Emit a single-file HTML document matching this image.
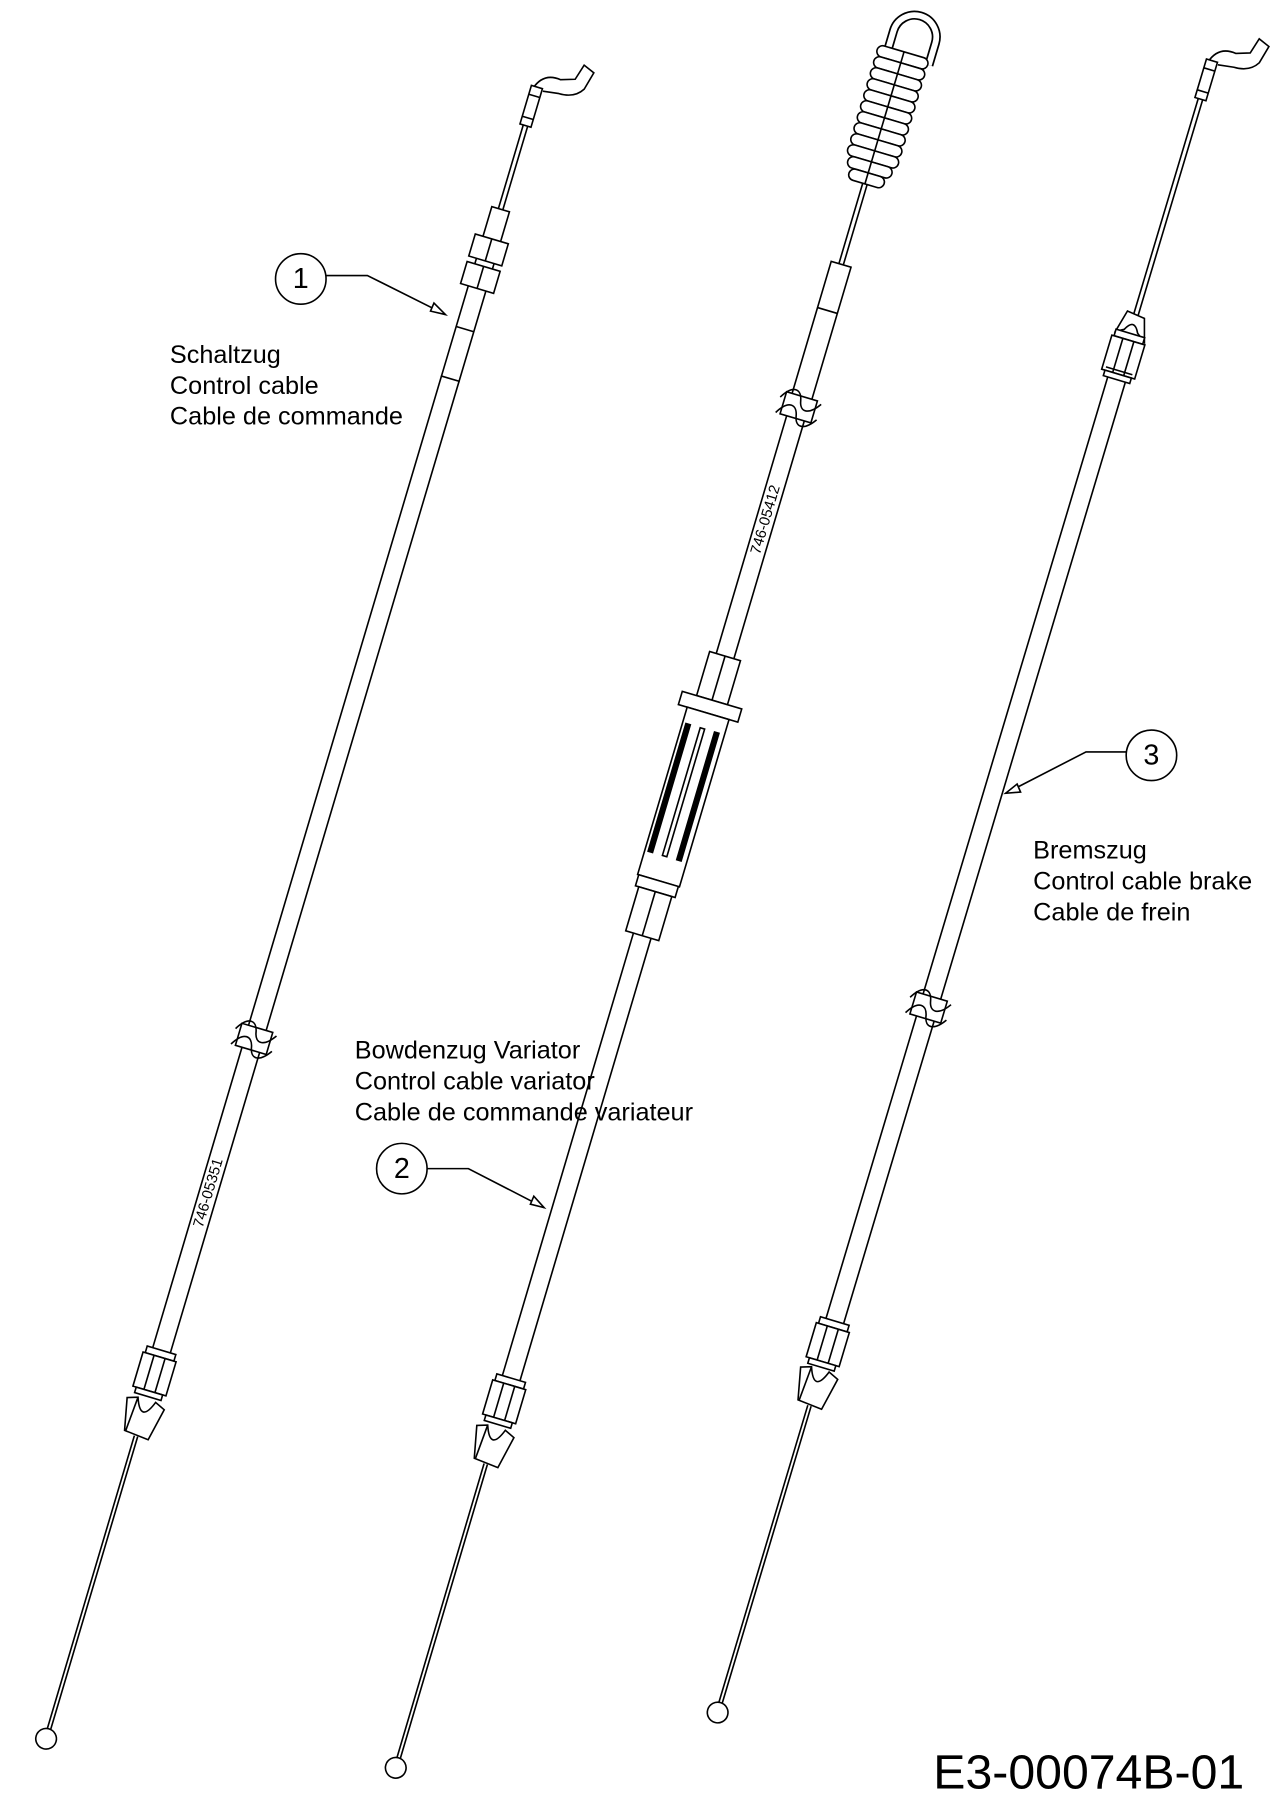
<!DOCTYPE html>
<html><head><meta charset="utf-8"><style>html,body{margin:0;padding:0;background:#fff}svg{display:block}</style></head>
<body>
<svg width="1272" height="1800" viewBox="0 0 1108 1568" xmlns="http://www.w3.org/2000/svg" font-family="Liberation Sans, sans-serif">
<defs>
<g id="fer" fill="#fff" stroke="#000" stroke-width="1.4">
<rect x="-13" y="0" width="26" height="6"/>
<rect x="-15" y="6" width="30" height="31"/>
<line x1="-5" y1="6" x2="-5" y2="37"/><line x1="5" y1="6" x2="5" y2="37"/>
<rect x="-12" y="37" width="24" height="5"/>
</g>
<g id="clip" fill="#fff" stroke="#000" stroke-width="1.4">
<path d="M-17,3 L-8,0 Q0,22 8,0 L17,4 L11,33 L-11,31 Z"/>
<path d="M-8,0 L-10,31"/>
</g>
<g id="brk">
<rect x="-14" y="-10" width="28" height="20" fill="#fff"/>
<path d="M-18,-4 C-10,-18 -2,-16 0,-6 C2,4 10,4 18,-8" fill="none" stroke="#000" stroke-width="1.4"/>
<path d="M-18,10 C-10,-4 -2,-2 0,8 C2,18 10,18 18,6" fill="none" stroke="#000" stroke-width="1.4"/>
</g>
<g id="hk" fill="#fff" stroke="#000" stroke-width="1.4">
<path d="M-3,-18 Q2,-34 18,-32 L30,-36 L34,-50 L44,-46 L40,-30 Q34,-20 20,-20 L6,-18"/>
<rect x="-5" y="-20" width="10" height="35"/>
<line x1="-5" y1="-12" x2="5" y2="-12"/><line x1="-5" y1="8" x2="5" y2="8"/>
</g>
</defs>
<g stroke="#000" stroke-width="1.4" fill="#fff">
<!-- Cable 1 -->
<g transform="translate(462,95) rotate(16.55)">
<line x1="-2" y1="15" x2="-2" y2="91"/><line x1="2" y1="15" x2="2" y2="91"/>
<use href="#hk"/>
<rect x="-8" y="91" width="16" height="154"/>
<line x1="-8" y1="200" x2="8" y2="200"/>
<rect x="-15" y="118" width="30" height="20"/><line x1="0" y1="118" x2="0" y2="138"/>
<rect x="-15" y="143" width="30" height="20"/><line x1="0" y1="143" x2="0" y2="163"/>
<line x1="-8" y1="245" x2="-8" y2="1128"/><line x1="8" y1="245" x2="8" y2="1128"/>
<use href="#brk" y="845"/>
<text x="0" y="0" transform="translate(4,985) rotate(-90)" font-size="13" fill="#000" stroke="none" text-anchor="middle">746-05351</text>
<use href="#fer" y="1128"/>
<use href="#clip" y="1173"/>
<line x1="-1.5" y1="1206" x2="-1.5" y2="1472"/><line x1="1.5" y1="1206" x2="1.5" y2="1472"/>
<circle cx="0" cy="1481" r="9"/>
</g>
<!-- Cable 2 -->
<g transform="translate(752,165) rotate(16.5)">
<path d="M-14,-125 L-14,-140 A19,19 0 0 1 24,-140 L24,-120" fill="none" stroke-width="8"/>
<path d="M-14,-125 L-14,-140 A19,19 0 0 1 24,-140 L24,-120" fill="none" stroke="#fff" stroke-width="5"/>
<rect x="-23" y="-125" width="46" height="10" rx="5"/>
<rect x="-23" y="-115" width="46" height="10" rx="5"/>
<rect x="-23" y="-105" width="46" height="10" rx="5"/>
<rect x="-23" y="-95" width="46" height="10" rx="5"/>
<rect x="-23" y="-85" width="46" height="10" rx="5"/>
<rect x="-23" y="-75" width="46" height="10" rx="5"/>
<rect x="-23" y="-65" width="46" height="10" rx="5"/>
<rect x="-23" y="-55" width="46" height="10" rx="5"/>
<rect x="-23" y="-45" width="46" height="10" rx="5"/>
<rect x="-23" y="-35" width="46" height="10" rx="5"/>
<rect x="-20" y="-25" width="40" height="10" rx="5"/>
<rect x="-16" y="-15" width="32" height="10" rx="5"/>
<line x1="0" y1="-125" x2="0" y2="-5"/>
<line x1="-2" y1="-5" x2="-2" y2="68"/><line x1="2" y1="-5" x2="2" y2="68"/>
<rect x="-9" y="68" width="18" height="132"/>
<line x1="-9" y1="110" x2="9" y2="110"/>
<line x1="-8" y1="200" x2="-8" y2="424"/><line x1="8" y1="200" x2="8" y2="424"/>
<use href="#brk" y="198"/>
<text x="0" y="0" transform="translate(4,300) rotate(-90)" font-size="13" fill="#000" stroke="none" text-anchor="middle">746-05412</text>
<rect x="-14" y="424" width="28" height="40"/><line x1="0" y1="424" x2="0" y2="464"/>
<rect x="-27" y="464" width="54" height="12"/>
<rect x="-19" y="476" width="38" height="152"/>
<rect x="-16" y="490" width="4" height="116" fill="#000"/>
<rect x="-3" y="490" width="4" height="116"/>
<rect x="10" y="490" width="4" height="116" fill="#000"/>
<rect x="-18" y="628" width="36" height="10"/>
<rect x="-15" y="638" width="30" height="40"/><line x1="0" y1="638" x2="0" y2="678"/>
<line x1="-8" y1="678" x2="-8" y2="1080"/><line x1="8" y1="678" x2="8" y2="1080"/>
<use href="#fer" y="1080"/>
<use href="#clip" y="1125"/>
<line x1="-1.5" y1="1158" x2="-1.5" y2="1425"/><line x1="1.5" y1="1158" x2="1.5" y2="1425"/>
<circle cx="0" cy="1434" r="9"/>
</g>
<!-- Cable 3 -->
<g transform="translate(1050,72) rotate(16.66)">
<line x1="-2" y1="15" x2="-2" y2="212"/><line x1="2" y1="15" x2="2" y2="212"/>
<use href="#hk"/>
<path d="M-13,230 L-8,210 L8,212 L14,232 L6,226 Q0,214 -6,226 Z"/>
<use href="#fer" y="228"/>
<line x1="-12" y1="262" x2="12" y2="262"/>
<line x1="-8" y1="270" x2="-8" y2="1126"/><line x1="8" y1="270" x2="8" y2="1126"/>
<use href="#brk" y="841"/>
<use href="#fer" y="1126"/>
<use href="#clip" y="1170"/>
<line x1="-1.5" y1="1203" x2="-1.5" y2="1473"/><line x1="1.5" y1="1203" x2="1.5" y2="1473"/>
<circle cx="0" cy="1482" r="9"/>
</g>
<!-- callouts -->
<circle cx="262" cy="243" r="22"/>
<polyline points="284,240 320,240 388,274" fill="none"/>
<path d="M388,274 L375,271 L378,264 Z"/>
<circle cx="350" cy="1018" r="22"/>
<polyline points="372,1018 408,1018 474,1052" fill="none"/>
<path d="M474,1052 L462,1049 L465,1042 Z"/>
<circle cx="1003" cy="658" r="22"/>
<polyline points="981,655 946,655 876,691" fill="none"/>
<path d="M876,691 L886,683 L889,690 Z"/>
</g>
<g font-size="22" fill="#000">
<text x="262" y="251" text-anchor="middle" font-size="25">1</text>
<text x="350" y="1026" text-anchor="middle" font-size="25">2</text>
<text x="1003" y="666" text-anchor="middle" font-size="25">3</text>
<text x="148" y="316">Schaltzug</text>
<text x="148" y="343">Control cable</text>
<text x="148" y="370">Cable de commande</text>
<text x="309" y="922">Bowdenzug Variator</text>
<text x="309" y="949">Control cable variator</text>
<text x="309" y="976">Cable de commande variateur</text>
<text x="900" y="748">Bremszug</text>
<text x="900" y="775">Control cable brake</text>
<text x="900" y="802">Cable de frein</text>
<text x="813" y="1558" font-size="42">E3-00074B-01</text>
</g>
</svg>
</body></html>
